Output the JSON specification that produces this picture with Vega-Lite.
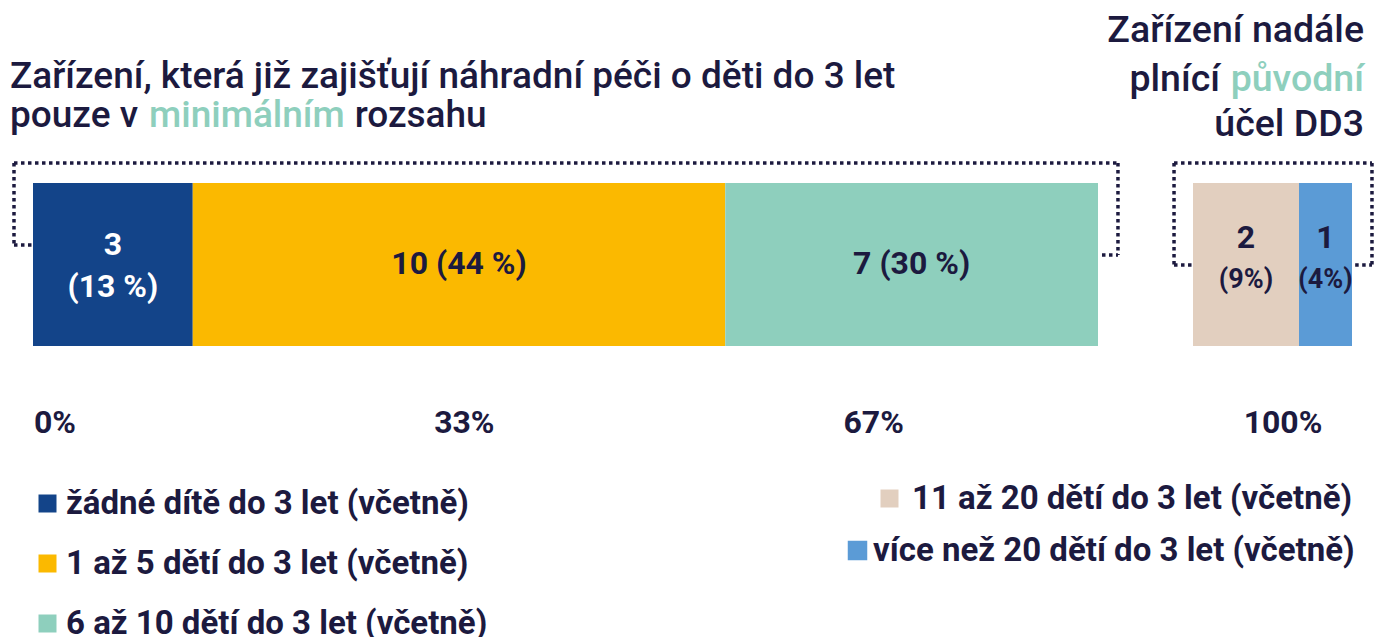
{
  "$schema": "https://vega.github.io/schema/vega-lite/v6.json",
  "width": 1375,
  "height": 637,
  "autosize": {"type": "none"},
  "padding": 0,
  "background": "white",
  "config": {"view": {"stroke": null}, "font": "Roboto", "text": {"font": "Roboto"}},
  "datasets": {
    "segmenty": [
      {"kategorie": "žádné dítě do 3 let (včetně)", "pocet": 3, "popisek": "3\n(13 %)", "podil": "(13 %)", "skupina": "A", "poradi": 1},
      {"kategorie": "1 až 5 dětí do 3 let (včetně)", "pocet": 10, "popisek": "10 (44 %)", "podil": "(44 %)", "skupina": "A", "poradi": 2},
      {"kategorie": "6 až 10 dětí do 3 let (včetně)", "pocet": 7, "popisek": "7 (30 %)", "podil": "(30 %)", "skupina": "A", "poradi": 3},
      {"kategorie": "11 až 20 dětí do 3 let (včetně)", "pocet": 2, "popisek": "2", "podil": "(9%)", "skupina": "B", "poradi": 4},
      {"kategorie": "více než 20 dětí do 3 let (včetně)", "pocet": 1, "popisek": "1", "podil": "(4%)", "skupina": "B", "poradi": 5}
    ],
    "osa": [{"stitek": "0%"}, {"stitek": "33%"}, {"stitek": "67%"}, {"stitek": "100%"}]
  },
  "data": {"name": "segmenty"},
  "transform": [
    {"stack": "pocet", "groupby": ["skupina"], "sort": [{"field": "poradi", "order": "ascending"}], "as": ["x0", "x1"]}
  ],
  "resolve": {"scale": {"x": "independent"}},
  "layer": [
    {
      "transform": [{"filter": "datum.skupina === 'A'"}],
      "layer": [
        {
          "mark": {"type": "rect"},
          "encoding": {
            "x": {"field": "x0", "type": "quantitative", "scale": {"domain": [0, 20], "range": [33, 1098], "nice": false, "zero": false}, "axis": null},
            "x2": {"field": "x1"},
            "y": {"datum": 0, "type": "quantitative", "scale": {"domain": [0, 1], "range": [346, 183], "nice": false, "zero": false}, "axis": null},
            "y2": {"datum": 1},
            "color": {
              "field": "kategorie", "type": "nominal",
              "scale": {"domain": ["žádné dítě do 3 let (včetně)", "1 až 5 dětí do 3 let (včetně)", "6 až 10 dětí do 3 let (včetně)"], "range": ["#134489", "#fbb900", "#8ecfbd"]},
              "legend": {"orient": "none", "legendX": 31, "legendY": 487, "direction": "vertical", "title": null, "symbolType": "square", "symbolSize": 324, "symbolStrokeWidth": 0, "labelFont": "Roboto", "labelFontSize": 33, "labelFontWeight": "bold", "labelColor": "#1c1a3f", "labelOffset": 2, "rowPadding": 26, "labelLimit": 800, "padding": 0}
            }
          }
        },
        {
          "transform": [
            {"fold": ["x0", "x1"], "as": ["okraj", "hodnota"]},
            {"aggregate": [{"op": "mean", "field": "hodnota", "as": "stred"}], "groupby": ["kategorie", "popisek", "poradi"]}
          ],
          "layer": [
            {
              "transform": [{"filter": "datum.poradi === 1"}],
              "mark": {"type": "text", "fontSize": 32, "fontWeight": "bold", "lineBreak": "\n", "lineHeight": 42, "baseline": "middle", "align": "center", "dy": -20, "color": "#ffffff"},
              "encoding": {
                "x": {"field": "stred", "type": "quantitative"},
                "y": {"datum": 0.5, "type": "quantitative"},
                "text": {"field": "popisek"}
              }
            },
            {
              "transform": [{"filter": "datum.poradi !== 1"}],
              "mark": {"type": "text", "fontSize": 32, "fontWeight": "bold", "baseline": "middle", "align": "center", "dy": -1, "color": "#1c1a3f"},
              "encoding": {
                "x": {"field": "stred", "type": "quantitative"},
                "y": {"datum": 0.5, "type": "quantitative"},
                "text": {"field": "popisek"}
              }
            }
          ]
        },
        {"data": {"values": [{}]}, "mark": {"type": "rule", "color": "#1c1a3f", "strokeWidth": 3.5, "strokeDash": [3.5, 3.5]},
         "encoding": {"x": {"datum": -0.357, "type": "quantitative"}, "x2": {"datum": 20.375}, "y": {"datum": 1.123, "type": "quantitative"}}},
        {"data": {"values": [{}]}, "mark": {"type": "rule", "color": "#1c1a3f", "strokeWidth": 3.5, "strokeDash": [3.5, 3.5]},
         "encoding": {"x": {"datum": -0.357, "type": "quantitative"}, "y": {"datum": 1.123, "type": "quantitative"}, "y2": {"datum": 0.62}}},
        {"data": {"values": [{}]}, "mark": {"type": "rule", "color": "#1c1a3f", "strokeWidth": 3.5, "strokeDash": [3.5, 3.5]},
         "encoding": {"x": {"datum": -0.357, "type": "quantitative"}, "x2": {"datum": 0}, "y": {"datum": 0.62, "type": "quantitative"}}},
        {"data": {"values": [{}]}, "mark": {"type": "rule", "color": "#1c1a3f", "strokeWidth": 3.5, "strokeDash": [3.5, 3.5]},
         "encoding": {"x": {"datum": 20.375, "type": "quantitative"}, "y": {"datum": 1.123, "type": "quantitative"}, "y2": {"datum": 0.558}}},
        {"data": {"values": [{}]}, "mark": {"type": "rule", "color": "#1c1a3f", "strokeWidth": 3.5, "strokeDash": [3.5, 3.5]},
         "encoding": {"x": {"datum": 20.075, "type": "quantitative"}, "x2": {"datum": 20.375}, "y": {"datum": 0.558, "type": "quantitative"}}},
        {"data": {"values": [{"t": "Zařízení, která již zajišťují náhradní péči o děti do 3 let"}]},
         "mark": {"type": "text", "fontSize": 37, "fontWeight": 500, "align": "left", "baseline": "alphabetic", "color": "#1c1a3f"},
         "encoding": {"x": {"datum": -0.432, "type": "quantitative"}, "y": {"datum": 1.583, "type": "quantitative"}, "text": {"field": "t"}}},
        {"data": {"values": [{"t": "pouze v"}]},
         "mark": {"type": "text", "fontSize": 37, "fontWeight": 500, "align": "left", "baseline": "alphabetic", "color": "#1c1a3f"},
         "encoding": {"x": {"datum": -0.432, "type": "quantitative"}, "y": {"datum": 1.344, "type": "quantitative"}, "text": {"field": "t"}}},
        {"data": {"values": [{"t": "minimálním"}]},
         "mark": {"type": "text", "fontSize": 37, "fontWeight": 500, "align": "left", "baseline": "alphabetic", "color": "#8ecfbd"},
         "encoding": {"x": {"datum": 2.178, "type": "quantitative"}, "y": {"datum": 1.344, "type": "quantitative"}, "text": {"field": "t"}}},
        {"data": {"values": [{"t": "rozsahu"}]},
         "mark": {"type": "text", "fontSize": 37, "fontWeight": 500, "align": "left", "baseline": "alphabetic", "color": "#1c1a3f"},
         "encoding": {"x": {"datum": 6.04, "type": "quantitative"}, "y": {"datum": 1.344, "type": "quantitative"}, "text": {"field": "t"}}}
      ]
    },
    {
      "transform": [{"filter": "datum.skupina === 'B'"}],
      "layer": [
        {
          "transform": [{"filter": "datum.poradi === 4"}],
          "mark": {"type": "rect"},
          "encoding": {
            "x": {"field": "x0", "type": "quantitative", "scale": {"domain": [0, 3], "range": [1193, 1352], "nice": false, "zero": false}, "axis": null},
            "x2": {"field": "x1"},
            "y": {"datum": 0, "type": "quantitative"},
            "y2": {"datum": 1},
            "fill": {
              "field": "kategorie", "type": "nominal",
              "scale": {"domain": ["11 až 20 dětí do 3 let (včetně)"], "range": ["#e2cfbf"]},
              "legend": {"orient": "none", "legendX": 873, "legendY": 482, "title": null, "symbolType": "square", "symbolSize": 324, "symbolStrokeWidth": 0, "labelFont": "Roboto", "labelFontSize": 33, "labelFontWeight": "bold", "labelColor": "#1c1a3f", "labelOffset": 6, "labelLimit": 800, "padding": 0}
            }
          }
        },
        {
          "transform": [{"filter": "datum.poradi === 5"}],
          "mark": {"type": "rect", "fill": "#5b9bd6", "strokeWidth": 0},
          "encoding": {
            "x": {"field": "x0", "type": "quantitative"},
            "x2": {"field": "x1"},
            "y": {"datum": 0, "type": "quantitative"},
            "y2": {"datum": 1},
            "stroke": {
              "field": "kategorie", "type": "nominal",
              "scale": {"domain": ["více než 20 dětí do 3 let (včetně)"], "range": ["#5b9bd6"]},
              "legend": {"orient": "none", "legendX": 841, "legendY": 534, "title": null, "symbolType": "square", "symbolSize": 324, "labelFont": "Roboto", "labelFontSize": 33, "labelFontWeight": "bold", "labelColor": "#1c1a3f", "labelOffset": -1, "labelLimit": 800, "padding": 0,
                "encode": {"symbols": {"update": {"fill": {"value": "#5b9bd6"}, "stroke": {"value": "#5b9bd6"}, "strokeWidth": {"value": 0}}}}}
            }
          }
        },
        {
          "transform": [
            {"fold": ["x0", "x1"], "as": ["okraj", "hodnota"]},
            {"aggregate": [{"op": "mean", "field": "hodnota", "as": "stred"}], "groupby": ["kategorie", "popisek", "podil"]}
          ],
          "layer": [
            {
              "mark": {"type": "text", "fontSize": 32, "fontWeight": "bold", "baseline": "middle", "align": "center", "dy": -27, "color": "#1c1a3f"},
              "encoding": {"x": {"field": "stred", "type": "quantitative"}, "y": {"datum": 0.5, "type": "quantitative"}, "text": {"field": "popisek"}}
            },
            {
              "mark": {"type": "text", "fontSize": 27, "fontWeight": "bold", "baseline": "middle", "align": "center", "dy": 15, "color": "#1c1a3f"},
              "encoding": {"x": {"field": "stred", "type": "quantitative"}, "y": {"datum": 0.5, "type": "quantitative"}, "text": {"field": "podil"}}
            }
          ]
        },
        {"data": {"values": [{}]}, "mark": {"type": "rule", "color": "#1c1a3f", "strokeWidth": 3.5, "strokeDash": [3.5, 3.5]},
         "encoding": {"x": {"datum": -0.358, "type": "quantitative"}, "x2": {"datum": 3.377}, "y": {"datum": 1.123, "type": "quantitative"}}},
        {"data": {"values": [{}]}, "mark": {"type": "rule", "color": "#1c1a3f", "strokeWidth": 3.5, "strokeDash": [3.5, 3.5]},
         "encoding": {"x": {"datum": -0.358, "type": "quantitative"}, "y": {"datum": 1.123, "type": "quantitative"}, "y2": {"datum": 0.497}}},
        {"data": {"values": [{}]}, "mark": {"type": "rule", "color": "#1c1a3f", "strokeWidth": 3.5, "strokeDash": [3.5, 3.5]},
         "encoding": {"x": {"datum": -0.358, "type": "quantitative"}, "x2": {"datum": 0}, "y": {"datum": 0.497, "type": "quantitative"}}},
        {"data": {"values": [{}]}, "mark": {"type": "rule", "color": "#1c1a3f", "strokeWidth": 3.5, "strokeDash": [3.5, 3.5]},
         "encoding": {"x": {"datum": 3.377, "type": "quantitative"}, "y": {"datum": 1.123, "type": "quantitative"}, "y2": {"datum": 0.497}}},
        {"data": {"values": [{}]}, "mark": {"type": "rule", "color": "#1c1a3f", "strokeWidth": 3.5, "strokeDash": [3.5, 3.5]},
         "encoding": {"x": {"datum": 3.06, "type": "quantitative"}, "x2": {"datum": 3.377}, "y": {"datum": 0.497, "type": "quantitative"}}},
        {"data": {"values": [{"t": "Zařízení nadále"}]},
         "mark": {"type": "text", "fontSize": 37.5, "fontWeight": 500, "align": "right", "baseline": "alphabetic", "color": "#1c1a3f"},
         "encoding": {"x": {"datum": 3.226, "type": "quantitative"}, "y": {"datum": 1.865, "type": "quantitative"}, "text": {"field": "t"}}},
        {"data": {"values": [{"t": "plnící"}]},
         "mark": {"type": "text", "fontSize": 37.5, "fontWeight": 500, "align": "left", "baseline": "alphabetic", "color": "#1c1a3f"},
         "encoding": {"x": {"datum": -1.2, "type": "quantitative"}, "y": {"datum": 1.564, "type": "quantitative"}, "text": {"field": "t"}}},
        {"data": {"values": [{"t": "původní"}]},
         "mark": {"type": "text", "fontSize": 37.5, "fontWeight": 500, "align": "right", "baseline": "alphabetic", "color": "#8ecfbd"},
         "encoding": {"x": {"datum": 3.226, "type": "quantitative"}, "y": {"datum": 1.564, "type": "quantitative"}, "text": {"field": "t"}}},
        {"data": {"values": [{"t": "účel DD3"}]},
         "mark": {"type": "text", "fontSize": 37.5, "fontWeight": 500, "align": "right", "baseline": "alphabetic", "color": "#1c1a3f"},
         "encoding": {"x": {"datum": 3.226, "type": "quantitative"}, "y": {"datum": 1.288, "type": "quantitative"}, "text": {"field": "t"}}}
      ]
    },
    {
      "data": {"name": "osa"},
      "mark": {"type": "text", "fontSize": 32, "fontWeight": "bold", "align": "center", "baseline": "alphabetic", "color": "#1c1a3f"},
      "encoding": {
        "x": {"field": "stitek", "type": "ordinal", "scale": {"type": "point", "domain": ["0%", "33%", "67%", "100%"], "range": [55, 1283], "padding": 0}, "axis": null},
        "y": {"datum": -0.534, "type": "quantitative"},
        "text": {"field": "stitek"}
      }
    }
  ]
}
